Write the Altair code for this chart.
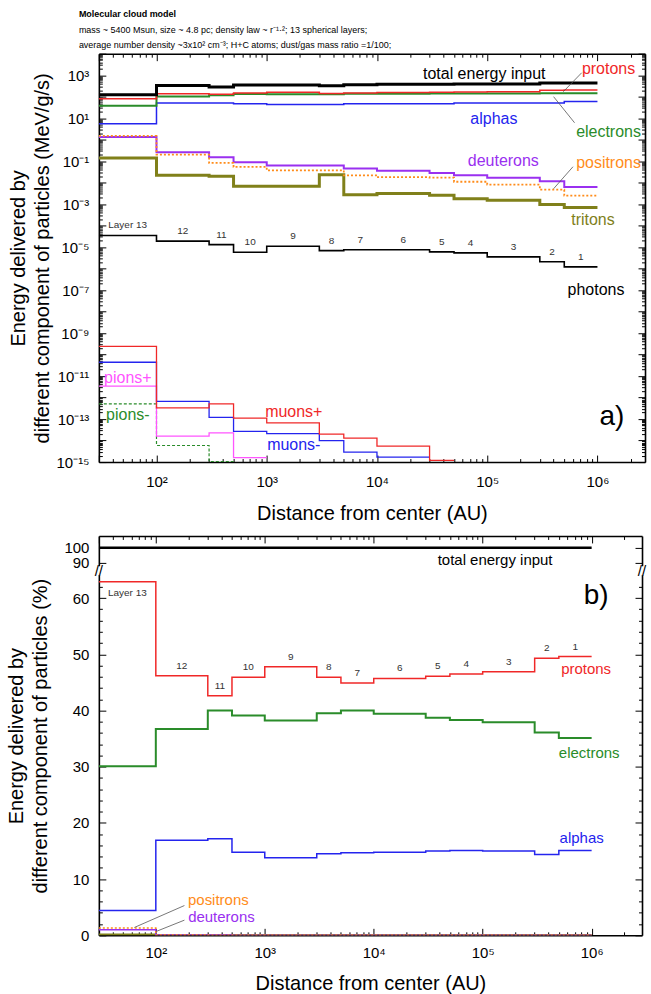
import json
import altair as alt
import pandas as pd

FONT = "Liberation Sans"

# ---------------- data ----------------
LAYER_EDGES = [30, 100, 300, 500, 1000, 3000, 5000, 1e4, 3e4, 5e4, 1e5, 3e5, 5e5, 1e6]
LAYER_LABELS = ["Layer 13", "12", "11", "10", "9", "8", "7", "6", "5", "4", "3", "2", "1"]

# panel a (MeV/g/s), layer 13 -> layer 1
A_TOTAL = [123, 330, 280, 350, 350, 320, 360, 380, 380, 390, 390, 430, 430]
A_PROTONS = [81, 138, 130, 150, 160, 140, 150, 155, 160, 165, 170, 200, 205]
A_ELECTRONS = [38, 102, 115, 132, 128, 128, 135, 138, 140, 140, 140, 145, 145]
A_ALPHAS = [5.5, 51, 51, 47, 43, 43, 47, 47, 47, 51, 51, 51, 60]
A_DEUTERONS = [1.33, 0.26, 0.15, 0.09, 0.062, 0.062, 0.045, 0.036, 0.028, 0.022, 0.017, 0.0115, 0.0063]
A_POSITRONS = [1.5, 0.2, 0.083, 0.054, 0.037, 0.037, 0.022, 0.018, 0.017, 0.011, 0.0081, 0.0047, 0.0025]
A_TRITONS = [0.14, 0.022, 0.02, 0.0068, 0.0068, 0.023, 0.0027, 0.0031, 0.0026, 0.0018, 0.0015, 0.00095, 0.0007]
A_PHOTONS = [3.5e-5, 1.9e-5, 1.3e-5, 5.8e-6, 1.1e-5, 6.9e-6, 7.6e-6, 7.6e-6, 6e-6, 5.4e-6, 3.5e-6, 2.1e-6, 1.2e-6]
A_MUONS_PLUS = [2.4e-10, 3.3e-13, 5.1e-13, 1.1e-13, 6.7e-14, 2e-14, 1.3e-14, 5.5e-15, 1.2e-15, None, None, None, None]
A_MUONS_MINUS = [4.4e-11, 6.7e-13, 1.2e-13, 2.7e-14, 2.1e-14, 1e-14, 2.9e-15, 1.7e-15, None, None, None, None, None]
A_PIONS_PLUS = [3.4e-12, 1.6e-14, 2.3e-14, 1.6e-15, None, None, None, None, None, None, None, None, None]
A_PIONS_MINUS = [5.1e-13, 5.9e-15, 1.05e-15, None, None, None, None, None, None, None, None, None, None]

# panel b (%), layer 13 -> layer 1
B_TOTAL = [100, 100, 100, 100, 100, 100, 100, 100, 100, 100, 100, 100, 100]
B_PROTONS = [62.9, 46.2, 42.6, 45.9, 47.8, 45.9, 44.9, 45.7, 46.1, 46.5, 46.9, 49.3, 49.6]
B_ELECTRONS = [30.1, 36.7, 40.0, 39.1, 38.2, 39.5, 40.0, 39.4, 38.7, 38.3, 37.9, 36.1, 35.1]
B_ALPHAS = [4.4, 16.9, 17.2, 14.8, 13.8, 14.5, 14.7, 14.8, 15.0, 15.1, 15.0, 14.4, 15.1]
B_POSITRONS = [1.3, 0.06, 0.03, 0.016, 0.011, 0.012, 0.006, 0.005, 0.004, 0.003, 0.002, 0.001, 0.0006]
B_DEUTERONS = [1.0, 0.08, 0.05, 0.027, 0.018, 0.02, 0.012, 0.009, 0.007, 0.006, 0.004, 0.003, 0.0015]
B_TRITONS = [0.11, 0.007, 0.007, 0.002, 0.002, 0.007, 0.0008, 0.0008, 0.0007, 0.0005, 0.0004, 0.0002, 0.0002]

# tick labels
X_TICK_VALUES = [1e2, 1e3, 1e4, 1e5, 1e6]
X_TICK_LABELS = ["10²", "10³", "10⁴", "10⁵", "10⁶"]
YA_TICK_VALUES = [1e-15, 1e-13, 1e-11, 1e-9, 1e-7, 1e-5, 1e-3, 1e-1, 1e1, 1e3]
YA_TICK_LABELS = ["10⁻¹⁵", "10⁻¹³", "10⁻¹¹", "10⁻⁹", "10⁻⁷", "10⁻⁵", "10⁻³", "10⁻¹", "10¹", "10³"]
YB_TICK_VALUES = [0, 10, 20, 30, 40, 50, 60, 90, 100]

# annotations
A_NAMES = ["total energy input", "protons", "alphas", "electrons", "deuterons", "positrons",
           "tritons", "photons", "pions+", "pions-", "muons+", "muons-"]
A_NAME_X = [9.4e4, 1.26e6, 1.15e5, 1.26e6, 1.4e5, 1.26e6, 9.1e5, 9.7e5, 55, 55, 1760, 1760]
A_NAME_Y = [1170, 2000, 9.5, 2.3, 0.105, 0.085, 1.9e-4, 1.05e-7, 8.5e-12, 1.6e-13, 2.2e-13, 6.5e-15]
B_NAMES = ["total energy input", "protons", "electrons", "alphas", "positrons", "deuterons"]
B_NAME_X = [1.3e5, 8.9e5, 9.5e5, 8.1e5, 375, 400]
B_NAME_Y = [92, 47.4, 32.5, 17.4, 6.2, 3.2]

RED, GREEN, BLUE = "#f02828", "#2a8c2a", "#2424ee"
PURPLE, ORANGE, OLIVE, PINK = "#9a30f0", "#ff8c1a", "#80801a", "#ff55ff"
COLOR_OF = {"total energy input": "black", "protons": RED, "alphas": BLUE, "electrons": GREEN,
            "deuterons": PURPLE, "positrons": ORANGE, "tritons": OLIVE, "photons": "black",
            "pions+": PINK, "pions-": GREEN, "muons+": RED, "muons-": BLUE}

# ---------------- helpers ----------------
def step_frame(values):
    rows = []
    n = len(values)
    for i, v in enumerate(values):
        if v is None:
            continue
        rows.append({"x": LAYER_EDGES[i], "y": v})
        nxt = values[i + 1] if i + 1 < n else None
        if nxt is None:
            rows.append({"x": LAYER_EDGES[i + 1], "y": v})
    return pd.DataFrame(rows)


def series_layer(values, xs, ys, color, width, dash=None):
    kw = dict(interpolate="step-after", color=color, strokeWidth=width, clip=True,
              strokeJoin="miter")
    if dash:
        kw["strokeDash"] = dash
    return alt.Chart(step_frame(values)).mark_line(**kw).encode(
        x=alt.X("x:Q", scale=xs, axis=None),
        y=alt.Y("y:Q", scale=ys, axis=None),
        order=alt.Order("x:Q"),
    )


def tick_layers(xs, ys, xmaj, xmin, ymaj, ymin, W, H, dummy):
    base = alt.Chart(dummy).mark_point(opacity=0)
    out = []
    for xv, yv, size, dom in [(xmaj, ymaj, 7, True), (xmin, ymin, 3.5, False)]:
        common = dict(labels=False, title=None, grid=False, domain=dom, domainColor="black",
                      domainWidth=1.6, tickColor="black", tickWidth=1, tickSize=size, zindex=0)
        out.append(base.encode(
            x=alt.X("x:Q", scale=xs, axis=alt.Axis(orient="top", offset=-H, values=xv, **common)),
            y=alt.Y("y:Q", scale=ys, axis=alt.Axis(orient="right", offset=-W, values=yv, **common)),
        ))
        out.append(base.encode(
            x=alt.X("x:Q", scale=xs, axis=alt.Axis(orient="bottom", offset=-H, values=xv, **common)),
            y=alt.Y("y:Q", scale=ys, axis=alt.Axis(orient="left", offset=-W, values=yv, **common)),
        ))
    return out


def minor_log(lo_exp, hi_exp, lo, hi):
    vals = []
    for e in range(lo_exp, hi_exp + 1):
        for k in range(2, 10):
            v = k * 10.0 ** e
            if lo < v < hi:
                vals.append(v)
    return vals


x_label_expr = json.dumps(X_TICK_LABELS, ensure_ascii=False) + "[round(log(datum.value)/LN10) - 2]"
ya_label_expr = json.dumps(YA_TICK_LABELS, ensure_ascii=False) + "[round((log(datum.value)/LN10 + 15)/2)]"

AX_LABEL = dict(labelFontSize=15, labelColor="black", titleFontSize=20, titleFontWeight="normal",
                titleColor="black", ticks=False, tickSize=0, domain=False, grid=False,
                labelOverlap=False, zindex=0)

# ---------------- panel a ----------------
WA, HA = 547, 409
XSA = alt.Scale(type="log", domain=[30, 2.7e6], nice=False)
YSA = alt.Scale(type="log", domain=[1e-15, 1e4], nice=False)
dummy_a = pd.DataFrame({"x": [1000.0], "y": [1.0]})

label_a = alt.Chart(dummy_a).mark_point(opacity=0).encode(
    x=alt.X("x:Q", scale=XSA, axis=alt.Axis(orient="bottom", values=X_TICK_VALUES, labelExpr=x_label_expr,
                                             title="Distance from center (AU)", labelPadding=12,
                                             titlePadding=15, **AX_LABEL)),
    y=alt.Y("y:Q", scale=YSA, axis=alt.Axis(orient="left", values=YA_TICK_VALUES, labelExpr=ya_label_expr,
                                             title=["Energy delivered by",
                                                    "different component of particles (MeV/g/s)"],
                                             titleLineHeight=24, labelPadding=10, titlePadding=4,
                                             **AX_LABEL)),
)

ticks_a = tick_layers(
    XSA, YSA,
    [30, 1e2, 1e3, 1e4, 1e5, 1e6], minor_log(1, 6, 30, 2.7e6),
    [10.0 ** e for e in range(-15, 5)], minor_log(-15, 3, 1e-15, 1e4),
    WA, HA, dummy_a,
)

lines_a = [
    series_layer(A_PIONS_MINUS, XSA, YSA, GREEN, 1.2, [3, 2]),
    series_layer(A_PIONS_PLUS, XSA, YSA, PINK, 1.3),
    series_layer(A_MUONS_MINUS, XSA, YSA, BLUE, 1.3),
    series_layer(A_MUONS_PLUS, XSA, YSA, RED, 1.3),
    series_layer(A_PHOTONS, XSA, YSA, "black", 1.6),
    series_layer(A_TRITONS, XSA, YSA, OLIVE, 3),
    series_layer(A_DEUTERONS, XSA, YSA, PURPLE, 2),
    series_layer(A_POSITRONS, XSA, YSA, ORANGE, 1.8, [2, 2]),
    series_layer(A_ALPHAS, XSA, YSA, BLUE, 1.5),
    series_layer(A_ELECTRONS, XSA, YSA, GREEN, 2),
    series_layer(A_PROTONS, XSA, YSA, RED, 1.5),
    series_layer(A_TOTAL, XSA, YSA, "black", 3),
]

mids = [(LAYER_EDGES[i] * LAYER_EDGES[i + 1]) ** 0.5 for i in range(13)]
layer_lab_a = alt.Chart(pd.DataFrame({"x": mids, "y": A_PHOTONS, "t": LAYER_LABELS})).mark_text(
    fontSize=10, color="#333333", dy=-10, font=FONT
).encode(x=alt.X("x:Q", scale=XSA, axis=None), y=alt.Y("y:Q", scale=YSA, axis=None), text="t:N")

names_a = alt.Chart(pd.DataFrame({"x": A_NAME_X, "y": A_NAME_Y, "t": A_NAMES,
                                  "c": [COLOR_OF[n] for n in A_NAMES]})).mark_text(
    fontSize=16, font=FONT
).encode(x=alt.X("x:Q", scale=XSA, axis=None), y=alt.Y("y:Q", scale=YSA, axis=None), text="t:N",
         color=alt.Color("c:N", scale=None))

panel_tag_a = alt.Chart(pd.DataFrame({"x": [1.35e6], "y": [1.3e-13], "t": ["a)"]})).mark_text(
    fontSize=28, font=FONT, color="black"
).encode(x=alt.X("x:Q", scale=XSA, axis=None), y=alt.Y("y:Q", scale=YSA, axis=None), text="t:N")

leaders_a = alt.Chart(pd.DataFrame({
    "x": [7.2e5, 6.2e5, 6.0e5], "y": [1300, 6.1, 0.055],
    "x2": [4.9e5, 4.0e5, 4.0e5], "y2": [170, 100, 0.0052],
})).mark_rule(color="#555555", strokeWidth=0.8).encode(
    x=alt.X("x:Q", scale=XSA, axis=None), y=alt.Y("y:Q", scale=YSA, axis=None), x2="x2:Q", y2="y2:Q")

panel_a = alt.layer(label_a, *ticks_a, *lines_a, layer_lab_a, names_a, panel_tag_a, leaders_a).resolve_axis(
    x="independent", y="independent"
).properties(
    width=WA, height=HA,
    title=alt.TitleParams(
        text="Molecular cloud model",
        subtitle=["mass ~ 5400 Msun, size ~ 4.8 pc; density law ~ r⁻¹·²; 13 spherical layers;",
                  "average number density ~3x10² cm⁻³; H+C atoms; dust/gas mass ratio =1/100;"],
        anchor="start", frame="group", dx=-20, offset=3, fontSize=9, fontWeight="bold",
        subtitleFontSize=9, subtitlePadding=7, subtitleLineHeight=15, color="black",
        subtitleColor="black", font=FONT, subtitleFont=FONT,
    ),
)

# ---------------- panel b ----------------
WB, HB = 544, 400
XSB = alt.Scale(type="log", domain=[30, 2.9e6], nice=False)
YSB = alt.Scale(type="linear", domain=[0, 64, 88, 107.7], range=[HB, 39.7, 30.1, 0], nice=False, zero=False)
dummy_b = pd.DataFrame({"x": [1000.0], "y": [10.0]})

label_b = alt.Chart(dummy_b).mark_point(opacity=0).encode(
    x=alt.X("x:Q", scale=XSB, axis=alt.Axis(orient="bottom", values=X_TICK_VALUES, labelExpr=x_label_expr,
                                             title="Distance from center (AU)", labelPadding=10,
                                             titlePadding=13, **AX_LABEL)),
    y=alt.Y("y:Q", scale=YSB, axis=alt.Axis(orient="left", values=YB_TICK_VALUES, format="d",
                                             title=["Energy delivered by",
                                                    "different component of particles (%)"],
                                             titleLineHeight=24, labelPadding=10, titlePadding=13,
                                             **AX_LABEL)),
)

ticks_b = tick_layers(
    XSB, YSB,
    [30, 1e2, 1e3, 1e4, 1e5, 1e6], minor_log(1, 6, 30, 2.9e6),
    YB_TICK_VALUES, [v for v in range(2, 63, 2) if v % 10 != 0],
    WB, HB, dummy_b,
)

lines_b = [
    series_layer(B_TRITONS, XSB, YSB, OLIVE, 2.5),
    series_layer(B_DEUTERONS, XSB, YSB, PURPLE, 1.5),
    series_layer(B_POSITRONS, XSB, YSB, ORANGE, 1.5, [2, 2]),
    series_layer(B_ALPHAS, XSB, YSB, BLUE, 1.5),
    series_layer(B_ELECTRONS, XSB, YSB, GREEN, 2),
    series_layer(B_PROTONS, XSB, YSB, RED, 1.5),
    series_layer(B_TOTAL, XSB, YSB, "black", 2.5),
]

layer_lab_b = alt.Chart(pd.DataFrame({"x": mids[1:], "y": B_PROTONS[1:], "t": LAYER_LABELS[1:]})).mark_text(
    fontSize=10, color="#333333", dy=-10, font=FONT
).encode(x=alt.X("x:Q", scale=XSB, axis=None), y=alt.Y("y:Q", scale=YSB, axis=None), text="t:N")
layer13_b = alt.Chart(pd.DataFrame({"x": mids[:1], "y": B_PROTONS[:1], "t": LAYER_LABELS[:1]})).mark_text(
    fontSize=10, color="#333333", dy=11, font=FONT
).encode(x=alt.X("x:Q", scale=XSB, axis=None), y=alt.Y("y:Q", scale=YSB, axis=None), text="t:N")

names_b = alt.Chart(pd.DataFrame({"x": B_NAME_X, "y": B_NAME_Y, "t": B_NAMES,
                                  "c": [COLOR_OF[n] for n in B_NAMES]})).mark_text(
    fontSize=15, font=FONT
).encode(x=alt.X("x:Q", scale=XSB, axis=None), y=alt.Y("y:Q", scale=YSB, axis=None), text="t:N",
         color=alt.Color("c:N", scale=None))

panel_tag_b = alt.Chart(pd.DataFrame({"x": [1.1e6], "y": [60.4], "t": ["b)"]})).mark_text(
    fontSize=28, font=FONT, color="black"
).encode(x=alt.X("x:Q", scale=XSB, axis=None), y=alt.Y("y:Q", scale=YSB, axis=None), text="t:N")

leaders_b = alt.Chart(pd.DataFrame({
    "x": [183, 183], "y": [5.3, 2.7], "x2": [63.6, 101], "y2": [1.4, 0.7],
})).mark_rule(color="#555555", strokeWidth=0.8).encode(
    x=alt.X("x:Q", scale=XSB, axis=None), y=alt.Y("y:Q", scale=YSB, axis=None), x2="x2:Q", y2="y2:Q")

# axis break
break_mask = alt.Chart(pd.DataFrame({
    "x": [26.5, 2.55e6], "x2": [34.0, 3.3e6], "y": [64.6, 64.6], "y2": [87.4, 87.4],
})).mark_rect(color="white").encode(
    x=alt.X("x:Q", scale=XSB, axis=None), x2="x2:Q", y=alt.Y("y:Q", scale=YSB, axis=None), y2="y2:Q")
break_marks = alt.Chart(pd.DataFrame({"x": [30, 2.9e6], "y": [76, 76], "t": ["//", "//"]})).mark_text(
    fontSize=15, font=FONT, color="black"
).encode(x=alt.X("x:Q", scale=XSB, axis=None), y=alt.Y("y:Q", scale=YSB, axis=None), text="t:N")

panel_b = alt.layer(label_b, *ticks_b, *lines_b, layer_lab_b, layer13_b, names_b, panel_tag_b,
                    leaders_b, break_mask, break_marks).resolve_axis(
    x="independent", y="independent"
).properties(width=WB, height=HB)

chart = alt.vconcat(panel_a, panel_b, spacing=11).properties(
    padding={"left": 6, "top": 9, "right": 2, "bottom": 0},
    background="white",
).configure(font=FONT).configure_view(stroke=None)

chart.save("out.html", embed_options={"renderer": "svg", "actions": False})
